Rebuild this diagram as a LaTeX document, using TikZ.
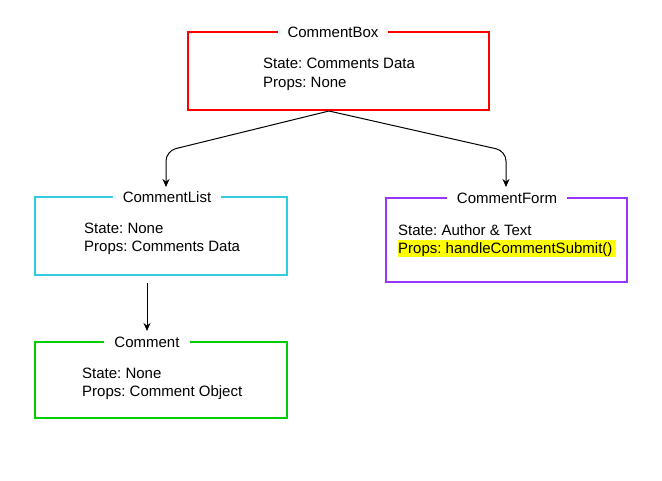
\documentclass[tikz,border=0pt]{standalone}
\usepackage{fontspec}
\setmainfont{Liberation Sans}
\usetikzlibrary{arrows.meta}
\definecolor{cbred}{HTML}{FF0000}
\definecolor{clcyan}{HTML}{33CCDD}
\definecolor{cgreen}{HTML}{00CC00}
\definecolor{cfpurple}{HTML}{9933FF}
\definecolor{hlyellow}{HTML}{FFFF00}
\begin{document}
\frenchspacing
\begin{tikzpicture}[x=1pt,y=-1pt,
  compbox/.style={line width=2pt},
  titletext/.style={font=\fontsize{15}{18}\selectfont, fill=white, inner xsep=10pt, inner ysep=1pt, anchor=base},
  bodytext/.style={font=\fontsize{15}{18}\selectfont, inner sep=0pt, anchor=base west},
  conn/.style={line width=1pt, rounded corners=10pt, -{Stealth[length=8pt,width=7pt]}}
]
\useasboundingbox[fill=white] (0,0) rectangle (662,480);

% boxes
\draw[compbox, cbred] (188,32) rectangle (489,110);
\coordinate (cbbot) at (329,111);
\node[titletext] (cbtitle) at (333,37.5) {CommentBox};
\node[bodytext] (cbstate) at (263,68) {State: Comments Data};
\node[bodytext] (cbprops) at (263,87) {Props: None};

\draw[compbox, clcyan] (35,197) rectangle (287,275);
\node[titletext] (cltitle) at (167,202.5) {CommentList};
\node[bodytext] (clstate) at (84,233) {State: None};
\node[bodytext] (clprops) at (84,251) {Props: Comments Data};

\draw[compbox, cgreen] (35,342) rectangle (287,418);
\node[titletext] (ctitle) at (147,347.5) {Comment};
\node[bodytext] (cstate) at (82,378) {State: None};
\node[bodytext] (cprops) at (82,396) {Props: Comment Object};

\draw[compbox, cfpurple] (386,198) rectangle (627,282);
\node[titletext] (cftitle) at (507,203.5) {CommentForm};
\node[bodytext] (cfstate) at (398,235) {State: Author \& Text};
\fill[hlyellow] (398,240) rectangle (616,257);
\node[bodytext] (cfprops) at (398,253) {Props: handleCommentSubmit()};

% connector targets
\coordinate (cltop) at (166,187);
\coordinate (cftop) at (506,187);
\coordinate (clbot) at (147,283);
\coordinate (ctop) at (147,331);

\draw[conn] (cbbot) -- (166,151) -- (cltop);
\draw[conn] (cbbot) -- (506,151) -- (cftop);
\draw[conn] (clbot) -- (ctop);
\end{tikzpicture}
\end{document}
